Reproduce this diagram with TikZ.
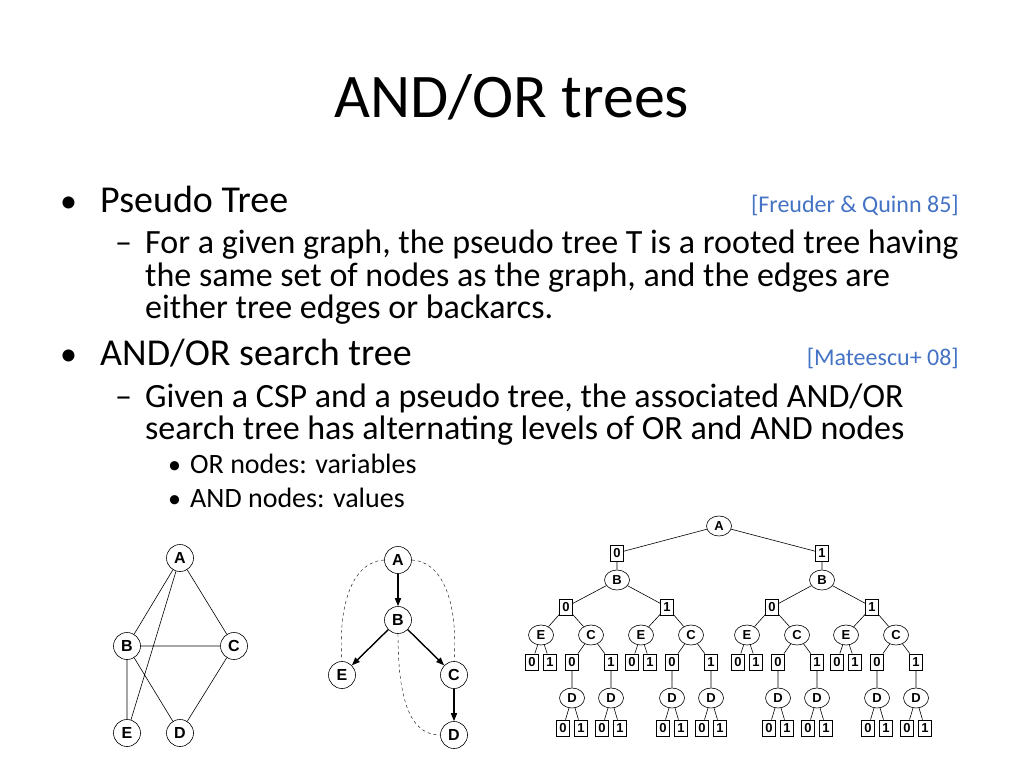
\documentclass[tikz,border=0pt]{standalone}
\usepackage{fontspec}
\setmainfont{Carlito}
\newfontfamily\arialf{Liberation Sans}
\usetikzlibrary{arrows.meta,shapes.geometric}
\definecolor{cite}{HTML}{4472C4}
\begin{document}
\begin{tikzpicture}[x=1pt,y=-1pt,
  txt/.style={anchor=base west,inner sep=0pt},
  ornode/.style={draw,semithick,circle,minimum size=27pt,inner sep=0pt,font=\arialf\bfseries\fontsize{16}{16}\selectfont},
  orsm/.style={draw,semithick,ellipse,minimum width=25pt,minimum height=20pt,inner sep=0pt,font=\arialf\bfseries\fontsize{13}{13}\selectfont},
  andsm/.style={draw,thick,rectangle,minimum width=13pt,minimum height=16pt,inner sep=0pt,font=\arialf\bfseries\fontsize{13}{13}\selectfont},
  tr/.style={-{Triangle[length=8pt,width=6pt]},line width=1.4pt},
  bk/.style={dashed,thin},
  ed/.style={semithick}]
\useasboundingbox (0,0) rectangle (1024,768);
\node[font=\fontsize{62}{62}\selectfont] (title) at (512,97) {AND/OR trees};
\begin{scope}[every node/.style={txt}]
\node[font=\fontsize{34}{34}\selectfont] (b1) at (60,212) {•};
\node[font=\fontsize{38}{38}\selectfont] (l1) at (100,212) {Pseudo Tree};
\node[font=\fontsize{24}{24}\selectfont,text=cite,anchor=base east] (c1) at (959,212) {[Freuder \& Quinn 85]};
\node[font=\fontsize{34}{34}\selectfont] (d1) at (115,253) {–};
\node[font=\fontsize{34}{34}\selectfont] (l2) at (145,253) {For a given graph, the pseudo tree T is a rooted tree having};
\node[font=\fontsize{34}{34}\selectfont] (l3) at (145,286) {the same set of nodes as the graph, and the edges are};
\node[font=\fontsize{34}{34}\selectfont] (l4) at (145,318) {either tree edges or backarcs.};
\node[font=\fontsize{34}{34}\selectfont] (b2) at (60,365) {•};
\node[font=\fontsize{38}{38}\selectfont] (l5) at (100,365) {AND/OR search tree};
\node[font=\fontsize{24}{24}\selectfont,text=cite,anchor=base east] (c2) at (959,365) {[Mateescu+ 08]};
\node[font=\fontsize{34}{34}\selectfont] (d2) at (115,407) {–};
\node[font=\fontsize{34}{34}\selectfont] (l6) at (145,407) {Given a CSP and a pseudo tree, the associated AND/OR};
\node[font=\fontsize{34}{34}\selectfont] (l7) at (145,439) {search tree has alternating levels of OR and AND nodes};
\node[font=\fontsize{26}{26}\selectfont] (b3) at (168,473) {•};
\node[font=\fontsize{28}{28}\selectfont] (l8) at (190,473) {OR nodes: variables};
\node[font=\fontsize{26}{26}\selectfont] (b4) at (168,507) {•};
\node[font=\fontsize{28}{28}\selectfont] (l9) at (190,507) {AND nodes: values};
\end{scope}
% graph 1
\node[ornode] (gA) at (180,558) {A};
\node[ornode] (gB) at (127,646) {B};
\node[ornode] (gC) at (234,646) {C};
\node[ornode] (gE) at (127,733) {E};
\node[ornode] (gD) at (180,733) {D};
\draw[ed] (gA)--(gB) (gA)--(gC) (gA)--(gE) (gB)--(gC) (gB)--(gE) (gB)--(gD) (gC)--(gD);
% pseudo tree
\node[ornode] (pA) at (398,560) {A};
\node[ornode] (pB) at (398,620) {B};
\node[ornode] (pE) at (342,675) {E};
\node[ornode] (pC) at (454,675) {C};
\node[ornode] (pD) at (454,735) {D};
\draw[tr] (pA)--(pB); \draw[tr] (pB)--(pE); \draw[tr] (pB)--(pC); \draw[tr] (pC)--(pD);
\draw[bk] (pA.west) .. controls (350,562) and (338,610) .. (pE.north);
\draw[bk] (pA.east) .. controls (446,562) and (458,610) .. (pC.north);
\draw[bk] (pB.south) .. controls (398,700) and (410,735) .. (pD.west);
% AND/OR tree
\node[orsm] (tA) at (719,526) {A};
\foreach \a/\ax/\v in {0/617/0,1/822/1}{
  \node[andsm] (a\a) at (\ax,553) {\v};
  \node[orsm] (b\a) at (\ax,580) {B};
  \draw[ed] (tA)--(a\a) (a\a)--(b\a);
}
\foreach \g/\gx/\bx/\p/\v in {0/566/541/0/0,1/667/641/0/1,2/772/747/1/0,3/872/846/1/1}{
  \node[andsm] (m\g) at (\gx,607) {\v};
  \draw[ed] (b\p)--(m\g);
  \node[orsm] (e\g) at (\bx,635) {E};
  \node[orsm] (c\g) at (\bx+50,635) {C};
  \draw[ed] (m\g)--(e\g) (m\g)--(c\g);
  \node[andsm] (e\g z) at (\bx-9,662) {0};
  \node[andsm] (e\g o) at (\bx+9,662) {1};
  \draw[ed] (e\g)--(e\g z) (e\g)--(e\g o);
  \foreach \k/\dx/\w in {z/31/0,o/70/1}{
    \node[andsm] (c\g\k) at (\bx+\dx,662) {\w};
    \node[orsm] (d\g\k) at (\bx+\dx,698) {D};
    \node[andsm] (d\g\k z) at (\bx+\dx-9,728) {0};
    \node[andsm] (d\g\k o) at (\bx+\dx+9,728) {1};
    \draw[ed] (c\g)--(c\g\k) (c\g\k)--(d\g\k) (d\g\k)--(d\g\k z) (d\g\k)--(d\g\k o);
  }
}
\end{tikzpicture}
\end{document}
